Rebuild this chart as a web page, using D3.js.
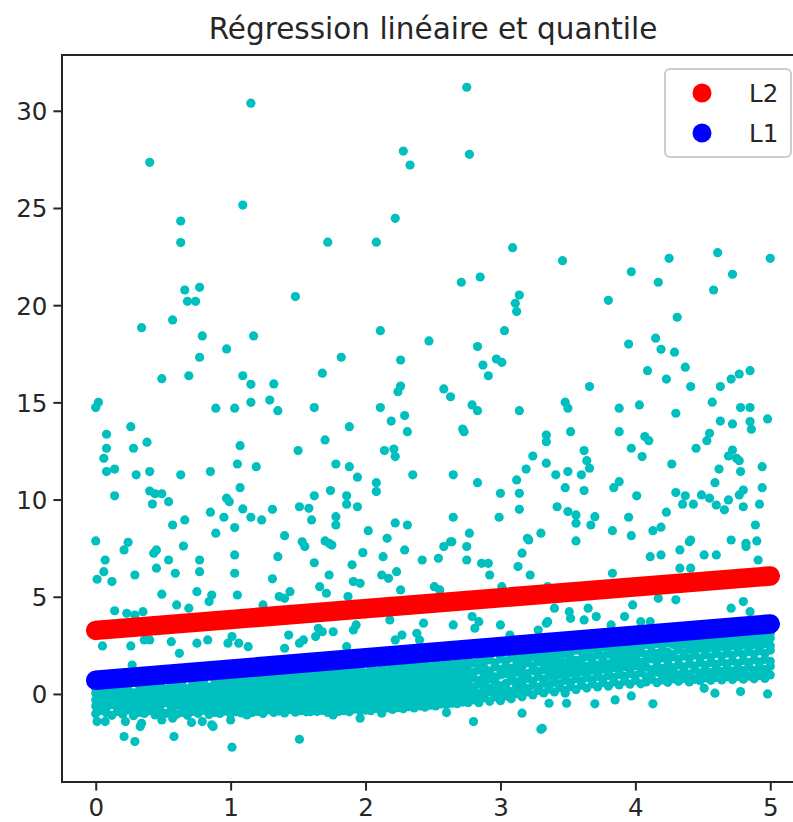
<!DOCTYPE html>
<html><head><meta charset="utf-8">
<script src="https://cdn.jsdelivr.net/npm/d3@7"></script>
<style>body{margin:0;background:#fff}svg{display:block;font-family:"DejaVu Sans",sans-serif}</style>
</head><body><svg id="c" width="793" height="822"></svg>
<script>
const chartTitle = "Régression linéaire et quantile";
const xTicks = [0, 1, 2, 3, 4, 5];
const yTicks = [0, 5, 10, 15, 20, 25, 30];
const xDomain = [-0.25, 5.25];
const yDomain = [-4.53, 32.87];
const seriesNames = ["L2", "L1"];
const lineL2 = [[0, 3.27], [5, 6.07]];
const lineL1 = [[0, 0.70], [5, 3.60]];

const pointsUpper = [
[1.15,30.39],[0.40,27.35],[1.09,25.15],[0.63,24.33],[0.63,23.22],[0.66,20.78],[0.77,20.92],[1.48,20.44],[0.68,20.2],[0.74,20.2],
[0.34,18.84],[0.57,19.24],[0.79,18.42],[1.17,18.42],[0.97,17.75],[0.77,17.32],[0.49,16.22],[0.69,16.37],[1.09,16.37],[1.15,15.93],
[1.32,15.95],[0.02,15.0],[0.0,14.73],[0.89,14.70],[1.03,14.70],[1.15,15.0],[1.29,15.12],[1.35,14.57],[0.26,13.75],[0.08,13.36],
[0.08,12.64],[0.28,12.64],[0.38,12.95],[0.06,12.12],[0.08,11.44],[0.14,11.57],[0.30,11.27],[0.40,11.44],[0.63,11.27],[0.85,11.44],
[1.07,12.77],[1.05,11.83],[1.19,11.69],[1.50,12.52],[1.07,10.61],[0.40,10.44],[0.44,10.30],[0.49,10.30],[0.14,10.19],[0.42,9.77],
[0.54,9.89],[0.97,10.07],[0.99,9.89],[0.85,9.35],[0.95,9.09],[1.09,9.52],[1.15,9.09],[1.23,8.95],[1.31,9.50],[1.51,9.63],
[0.57,8.69],[0.66,8.95],[1.03,8.56],[0.89,8.27],[1.40,8.14],[0.0,7.87],[0.24,7.80],[1.53,7.83],
[2.75,31.21],[2.28,27.93],[2.33,27.21],[2.77,27.76],[2.22,24.47],[1.72,23.24],[2.08,23.24],[3.09,22.96],[2.71,21.18],[2.85,21.45],
[3.14,20.52],[3.11,20.10],[3.12,19.67],
[2.11,18.69],[2.47,18.16],[1.82,17.32],[2.26,17.18],[1.68,16.50],[3.03,18.69],[2.83,17.87],[2.97,17.23],[3.01,17.06],[2.87,16.92],
[2.91,16.37],[2.26,15.84],[2.24,15.55],[2.58,15.69],[2.63,15.29],[1.62,14.73],[2.11,14.73],[2.79,14.87],[2.83,14.57],[3.14,14.57],
[1.88,13.75],[2.19,14.04],[2.29,14.32],[2.31,13.49],[1.70,13.07],[2.72,13.63],[2.73,13.49],[2.14,12.52],[2.21,12.60],[2.22,12.21],
[3.34,13.32],[3.34,12.98],[3.24,12.24],[3.34,11.87],[3.19,11.57],[3.12,11.01],[1.78,11.83],[1.88,11.69],[1.94,11.15],[2.35,11.27],
[2.65,11.27],[2.83,10.87],[2.08,10.87],[2.08,10.41],[1.74,10.46],[1.62,10.19],[1.86,10.19],[1.86,9.76],[1.94,9.63],[1.58,9.55],
[1.60,8.95],[1.78,9.12],[1.78,8.69],[3.00,10.32],[3.14,10.32],[3.14,9.50],[2.99,9.09],[2.65,9.09],[2.22,8.80],[2.31,8.69],
[2.02,8.40],[2.77,8.27],[3.30,8.27],[3.20,8.01],[2.16,8.01],[1.70,7.87],[2.63,7.83],
[3.46,22.29],[4.25,22.41],[4.61,22.70],[5.0,22.41],[3.97,21.72],[4.17,21.18],[4.72,21.59],[4.58,20.78],[3.80,20.25],
[4.31,19.38],[3.95,18.00],[4.15,18.30],[4.19,17.73],[4.29,17.58],[4.37,16.81],[4.09,16.63],[4.23,16.20],[4.41,15.81],[4.63,15.81],
[4.71,16.20],[4.77,16.46],[4.85,16.63],[3.66,15.81],[3.48,15.01],[3.50,14.70],[3.88,14.70],[4.03,14.87],[4.57,15.01],[4.30,14.44],
[4.78,14.73],[4.85,14.73],[4.98,14.15],[4.63,14.04],[4.72,13.89],[4.85,14.01],[4.86,13.62],[3.52,13.49],[3.88,13.49],[4.07,13.24],
[4.10,13.03],[4.55,13.41],[4.53,13.03],[3.97,12.64],[4.45,12.64],[4.72,12.55],[4.69,12.24],[4.75,12.12],[4.77,12.0],[3.62,12.52],
[4.05,12.21],[3.64,12.0],[3.66,11.61],[4.27,11.83],[4.94,11.69],[4.62,11.57],[4.78,11.44],[3.41,11.27],[3.50,11.44],[3.60,11.27],
[4.59,10.87],[3.88,10.92],[3.84,10.61],[3.48,10.61],[3.62,10.46],[4.94,10.61],[4.80,10.49],[4.77,10.24],[4.30,10.36],[4.37,10.19],
[4.35,9.76],[4.43,9.76],[4.49,10.24],[4.55,10.07],[4.60,9.72],[4.66,9.47],[4.69,9.98],[4.01,10.19],[4.80,9.63],[4.92,9.76],
[3.42,9.63],[3.50,9.38],[3.56,9.21],[3.56,8.78],[3.70,9.12],[3.67,8.69],[3.95,9.09],[4.23,9.35],[4.89,8.69],[3.83,8.40],
[3.97,8.14],[4.13,8.40],[4.19,8.58],[4.41,7.92],[4.71,7.92],[4.90,7.87],[4.82,7.75],[3.56,7.87]
];

const pointsMiddle = [
[0.21,7.41],[0.07,6.89],[0.06,6.29],[0.01,5.90],[0.12,5.78],[0.29,6.12],[0.43,7.24],[0.45,7.41],[0.45,6.47],[0.54,6.89],
[0.65,7.61],[0.59,6.21],[0.77,6.89],[0.77,6.29],[1.03,7.15],[1.03,6.21],[1.05,5.09],[1.35,7.06],[1.31,5.92],[1.44,5.26],
[1.36,5.01],[1.40,4.92],[0.49,5.13],[0.75,5.26],[0.86,5.09],[0.84,4.75],[0.60,4.58],[0.69,4.41],[0.14,4.28],[0.23,4.15],
[0.35,4.23],[0.29,4.06],[1.24,4.58],
[0.05,2.47],[0.26,2.47],[0.36,2.78],[0.40,2.78],[0.56,2.69],[0.62,2.09],[0.75,2.61],[0.83,2.78],[0.98,2.61],[1.01,2.95],
[1.06,2.61],[1.13,2.43],[1.43,3.03],[1.40,2.35],[0.27,1.49],[1.51,2.61],[3.07,3.03],
[0.21,-2.19],[0.29,-2.45],[0.58,-2.19],[1.01,-2.74],[1.51,-2.33],[0.01,-1.42],[0.07,-1.42],[0.22,-1.42],[0.34,-1.51],[0.49,-1.34],
[0.57,-1.25],[0.71,-1.47],[0.79,-1.42],[0.86,-1.59],[1.00,-1.34],[1.13,-0.99],[0.33,-1.68],[0.87,-1.68],[1.12,-1.08],[1.58,-0.82],
[1.55,7.58],[1.62,6.75],[1.73,7.75],[1.75,7.66],[1.66,5.52],[1.73,6.12],[1.71,5.18],[1.90,6.64],[1.91,5.78],[1.96,5.69],
[1.98,7.27],[1.87,5.01],[2.13,7.06],[2.12,6.12],[2.17,5.95],[2.23,6.29],[2.29,7.41],[2.26,5.35],[2.42,6.89],[2.51,5.52],
[2.55,5.35],[2.58,7.58],[2.64,7.83],[2.54,6.98],[2.75,7.58],[2.75,6.89],[2.86,6.72],[2.91,6.72],[2.92,6.12],[3.01,5.52],
[3.13,6.55],[3.16,7.24],[3.22,6.12],[3.21,7.92],
[1.54,2.78],[1.63,2.95],[1.65,3.38],[1.68,3.20],[1.76,3.20],[1.91,3.29],[1.93,3.55],[1.86,2.43],[2.22,2.78],[2.27,3.03],
[2.38,3.12],[2.40,2.78],[2.43,3.64],[2.65,3.55],[2.79,3.98],[2.84,3.72],[2.81,3.38],[3.00,3.55],[3.28,3.29],[3.34,3.64],[2.18,3.81],
[1.76,-1.08],[1.96,-1.25],[2.12,-0.99],[2.60,-0.96],[2.80,-1.42],[3.16,-0.99],[3.30,-1.82],[2.26,-0.14],[1.59,-0.91],
[4.11,7.06],[4.19,7.15],[4.33,7.41],[4.40,7.83],[4.51,7.15],[4.60,7.15],[4.82,7.58],[4.91,6.89],[4.33,6.47],[4.41,6.47],
[3.83,6.21],[3.35,5.52],[3.40,5.35],
[3.40,4.41],[3.35,3.72],[3.51,4.23],[3.52,3.89],[3.62,3.81],[3.65,4.41],[3.71,3.98],[3.92,3.98],[3.98,4.58],[4.17,4.92],
[4.30,4.84],[3.82,3.55],[4.04,3.72],[4.11,3.72],[4.71,4.41],[4.80,4.75],[4.85,4.23],
[3.36,-0.48],[3.48,0.04],[3.49,-0.48],[3.70,-0.51],[3.85,-0.31],[3.97,-0.10],[4.13,-0.51],[4.51,0.29],[4.59,0.04],[4.78,0.12],
[4.98,0.0],[3.31,-1.77]
];

// dense band below L1: [x, y1, y2, ...]
const bandColumns = [
[0.00,-1.02,-0.62,-0.31,0.05,0.31],[0.04,-0.85,-0.48,-0.12,0.22],[0.08,-0.98,-0.70,-0.35,0.02,0.35],[0.12,-1.10,-0.55,-0.20,0.18],
[0.16,-0.90,-0.62,-0.28,0.10,0.40],[0.20,-1.05,-0.75,-0.40,-0.05,0.28],[0.24,-0.82,-0.50,-0.15,0.20,0.45],[0.28,-1.12,-0.68,-0.32,0.05],
[0.32,-0.95,-0.58,-0.22,0.15,0.48],[0.36,-1.00,-0.72,-0.40,-0.08,0.30],[0.40,-0.86,-0.52,-0.18,0.12,0.50],[0.44,-1.08,-0.66,-0.30,0.02,0.35],
[0.48,-0.92,-0.60,-0.25,0.18,0.55],[0.52,-1.00,-0.45,-0.10,0.25],[0.56,-0.88,-0.70,-0.36,0.05,0.42,0.60],[0.60,-1.04,-0.58,-0.20,0.15,0.50],
[0.64,-0.95,-0.62,-0.30,0.08,0.38,0.65],[0.68,-1.10,-0.78,-0.42,-0.05,0.28],[0.72,-0.90,-0.55,-0.18,0.20,0.55,0.70],[0.76,-1.00,-0.68,-0.35,0.02,0.40],
[0.80,-0.84,-0.50,-0.12,0.25,0.62,0.78],[0.84,-1.06,-0.72,-0.38,0.00,0.35],[0.88,-0.95,-0.60,-0.25,0.12,0.48,0.80],[0.92,-1.00,-0.66,-0.30,0.05,0.42,0.72],
[0.96,-0.88,-0.52,-0.15,0.22,0.58,0.85],[1.00,-1.02,-0.70,-0.36,0.02,0.38,0.75],[1.04,-0.92,-0.58,-0.20,0.15,0.52,0.88],[1.08,-0.98,-0.64,-0.28,0.10,0.45,0.80],
[1.12,-0.85,-0.48,-0.12,0.25,0.62,0.95],[1.16,-0.96,-0.60,-0.25,0.12,0.50,0.85],[1.20,-0.90,-0.55,-0.18,0.20,0.58,0.98],[1.24,-1.00,-0.68,-0.32,0.05,0.42,0.78],
[1.28,-0.82,-0.45,-0.08,0.30,0.68,1.00],[1.32,-0.95,-0.62,-0.26,0.12,0.50,0.90],[1.36,-0.88,-0.50,-0.15,0.22,0.60,1.05],[1.40,-0.98,-0.66,-0.30,0.08,0.45,0.85],
[1.44,-0.80,-0.42,-0.05,0.32,0.70,1.08],[1.48,-0.94,-0.58,-0.22,0.15,0.55,0.95],[1.52,-0.86,-0.50,-0.12,0.25,0.65,1.10],[1.56,-0.92,-0.60,-0.25,0.12,0.50,0.90,1.15],
[1.60,-0.80,-0.45,-0.08,0.30,0.70,1.05],[1.64,-0.90,-0.55,-0.18,0.20,0.58,0.98,1.20],[1.68,-0.85,-0.48,-0.10,0.28,0.66,1.05],[1.72,-0.95,-0.62,-0.26,0.12,0.50,0.88,1.25],
[1.76,-0.82,-0.46,-0.06,0.32,0.72,1.10],[1.80,-0.90,-0.55,-0.18,0.22,0.60,0.98,1.30],[1.84,-0.86,-0.50,-0.12,0.26,0.65,1.05],[1.88,-0.92,-0.58,-0.22,0.15,0.55,0.95,1.32],
[1.92,-0.78,-0.42,-0.04,0.35,0.75,1.12],[1.96,-0.88,-0.52,-0.15,0.22,0.62,1.00,1.38],[2.00,-0.84,-0.48,-0.10,0.30,0.70,1.08],[2.04,-0.86,-0.55,-0.20,0.18,0.58,0.96,1.40],
[2.08,-0.75,-0.40,-0.02,0.38,0.78,1.15],[2.12,-0.82,-0.50,-0.14,0.25,0.64,1.02,1.45],[2.16,-0.72,-0.36,0.02,0.42,0.82,1.20],[2.20,-0.80,-0.46,-0.10,0.28,0.68,1.08,1.48],
[2.24,-0.70,-0.34,0.05,0.45,0.85,1.25],[2.28,-0.76,-0.42,-0.06,0.32,0.72,1.12,1.52],[2.32,-0.66,-0.30,0.10,0.50,0.90,1.30],[2.36,-0.72,-0.38,0.00,0.38,0.78,1.18,1.58],
[2.40,-0.62,-0.26,0.14,0.55,0.95,1.35],[2.44,-0.68,-0.32,0.05,0.45,0.85,1.25,1.62],[2.48,-0.58,-0.22,0.18,0.58,0.98,1.40],[2.52,-0.62,-0.28,0.10,0.50,0.90,1.30,1.68],
[2.56,-0.52,-0.15,0.25,0.65,1.05,1.45],[2.60,-0.56,-0.20,0.18,0.58,0.96,1.36,1.72],[2.64,-0.48,-0.10,0.30,0.70,1.10,1.50],[2.68,-0.50,-0.14,0.24,0.62,1.02,1.42,1.78],
[2.72,-0.42,-0.05,0.35,0.75,1.15,1.55],[2.76,-0.45,-0.08,0.30,0.70,1.08,1.48,1.85],
[2.80,-0.30,0.08,0.35,0.82,1.10,1.58],[2.84,-0.45,0.02,0.50,0.70,1.22,1.48,1.92],[2.88,-0.20,0.25,0.55,0.95,1.35,1.70],[2.92,-0.38,0.10,0.30,0.78,1.18,1.75,1.98],
[2.96,-0.15,0.20,0.65,0.88,1.40,1.60],[3.00,-0.35,0.05,0.42,0.98,1.25,1.80,2.02],[3.04,-0.10,0.30,0.55,1.05,1.45,1.70],[3.08,-0.25,0.12,0.68,0.90,1.30,1.85,2.08],
[3.12,0.02,0.40,0.62,1.12,1.50,1.78],[3.16,-0.15,0.20,0.55,0.98,1.40,1.72,2.12],[3.20,0.10,0.28,0.80,1.05,1.60,1.95],[3.24,-0.05,0.45,0.68,1.20,1.42,1.90,2.18],
[3.28,0.18,0.35,0.90,1.15,1.65,2.05],[3.32,0.05,0.55,0.75,1.25,1.52,1.98,2.25],[3.36,0.25,0.48,0.95,1.35,1.70,2.10],[3.40,0.10,0.60,0.82,1.18,1.62,1.92,2.30],
[3.44,0.32,0.52,1.00,1.40,1.78,2.20],[3.48,0.18,0.70,0.90,1.28,1.58,2.05,2.35],[3.52,0.38,0.60,1.08,1.48,1.85,2.15],[3.56,0.22,0.78,0.95,1.35,1.72,2.25,2.40],
[3.60,0.45,0.66,1.15,1.55,1.80,2.20],[3.64,0.30,0.85,1.02,1.42,1.92,2.12,2.45],[3.68,0.52,0.72,1.22,1.60,1.88,2.35],[3.72,0.36,0.90,1.10,1.48,2.00,2.22,2.50],
[3.76,0.58,0.78,1.28,1.68,1.95,2.42],[3.80,0.40,0.95,1.15,1.55,2.05,2.30,2.56],[3.84,0.62,0.85,1.35,1.72,2.10,2.48],[3.88,0.46,1.00,1.22,1.62,2.00,2.38,2.62],
[3.92,0.66,0.90,1.40,1.80,2.15,2.52],[3.96,0.50,1.05,1.28,1.68,2.08,2.45,2.66],
[4.00,0.70,0.95,1.45,1.85,2.22,2.58],[4.04,0.52,1.10,1.30,1.62,2.12,2.40,2.72],[4.08,0.62,0.88,1.38,1.75,2.02,2.55],[4.12,0.75,1.02,1.25,1.80,2.18,2.48,2.76],
[4.16,0.58,1.12,1.42,1.68,2.08,2.60],[4.20,0.72,0.95,1.30,1.85,2.25,2.50,2.80],[4.24,0.60,1.05,1.48,1.72,2.15,2.62],[4.28,0.78,1.15,1.35,1.90,2.05,2.55,2.85],
[4.32,0.65,0.98,1.50,1.78,2.28,2.66],[4.36,0.80,1.20,1.40,1.95,2.12,2.58,2.88],[4.40,0.62,1.02,1.55,1.82,2.30,2.70],[4.44,0.75,1.22,1.45,2.00,2.20,2.62,2.92],
[4.48,0.68,1.08,1.60,1.85,2.35,2.74],[4.52,0.82,1.25,1.48,2.02,2.25,2.68,2.96],[4.56,0.70,1.10,1.62,1.90,2.40,2.78],[4.60,0.85,1.30,1.52,2.08,2.28,2.70,3.00],
[4.64,0.72,1.15,1.66,1.95,2.45,2.82],[4.68,0.88,1.32,1.55,2.10,2.32,2.75,3.02],[4.72,0.74,1.18,1.70,1.98,2.48,2.85],[4.76,0.90,1.35,1.58,2.15,2.36,2.80,3.06],
[4.80,0.76,1.20,1.72,2.02,2.52,2.88],[4.84,0.92,1.38,1.62,2.18,2.40,2.82,3.08],[4.88,0.78,1.22,1.75,2.05,2.55,2.90],[4.92,0.95,1.40,1.65,2.22,2.44,2.86,3.10],
[4.96,0.80,1.25,1.78,2.08,2.58,2.92],[5.00,0.98,1.42,1.68,2.25,2.48,2.88,3.12]
];

const bandPoints = bandColumns.flatMap(c => c.slice(1).map(y => [c[0], y]));
const allPoints = pointsUpper.concat(pointsMiddle, bandPoints);

const svg = d3.select("#c");
const L = 62, R = 804, T = 55, B = 782;
const x = d3.scaleLinear().domain(xDomain).range([L, R]);
const y = d3.scaleLinear().domain(yDomain).range([B, T]);
const ink = "#262626";
const tickFont = 24.5;

svg.append("text").attr("x", (L + R) / 2).attr("y", 39).attr("text-anchor", "middle")
  .attr("font-size", 29.5).attr("fill", ink).text(chartTitle);

svg.append("clipPath").attr("id", "clipA").append("rect")
  .attr("x", L).attr("y", T).attr("width", R - L).attr("height", B - T);

const plot = svg.append("g").attr("clip-path", "url(#clipA)");
plot.append("g").selectAll("circle").data(allPoints).join("circle")
  .attr("cx", d => x(d[0])).attr("cy", d => y(d[1])).attr("r", 4.6).attr("fill", "#00bfbf");

const lineGen = d3.line().x(d => x(d[0])).y(d => y(d[1]));
plot.append("path").datum(lineL2).attr("d", lineGen).attr("stroke", "#ff0000")
  .attr("stroke-width", 19.5).attr("stroke-linecap", "round").attr("fill", "none");
plot.append("path").datum(lineL1).attr("d", lineGen).attr("stroke", "#0000ff")
  .attr("stroke-width", 19.5).attr("stroke-linecap", "round").attr("fill", "none");

// axes
const xAxis = svg.append("g").attr("transform", `translate(0,${B})`)
  .call(d3.axisBottom(x).tickValues(xTicks).tickSize(8.6).tickPadding(7).tickFormat(d3.format("d")));
const yAxis = svg.append("g").attr("transform", `translate(${L},0)`)
  .call(d3.axisLeft(y).tickValues(yTicks).tickSize(8.6).tickPadding(6).tickFormat(d3.format("d")));
[xAxis, yAxis].forEach(g => {
  g.select(".domain").remove();
  g.selectAll("line").attr("stroke", ink).attr("stroke-width", 2);
  g.selectAll("text").attr("font-family", "DejaVu Sans").attr("font-size", tickFont).attr("fill", ink);
});
xAxis.selectAll("text").attr("dy", null).attr("y", 33.5);
yAxis.selectAll("text").attr("dy", "0.36em");

// spines
svg.append("rect").attr("x", L).attr("y", T).attr("width", R - L).attr("height", B - T)
  .attr("fill", "none").attr("stroke", ink).attr("stroke-width", 2);

// legend
const leg = svg.append("g");
leg.append("rect").attr("x", 665).attr("y", 69).attr("width", 126).attr("height", 88)
  .attr("rx", 5).attr("fill", "#fff").attr("fill-opacity", 0.8).attr("stroke", "#cccccc").attr("stroke-width", 2);
const legColors = ["#ff0000", "#0000ff"];
seriesNames.forEach((name, i) => {
  const cy = 93 + i * 40;
  leg.append("circle").attr("cx", 702).attr("cy", cy).attr("r", 9.5).attr("fill", legColors[i]);
  leg.append("text").attr("x", 749).attr("y", cy).attr("dy", "0.36em")
    .attr("font-size", tickFont).attr("fill", ink).text(name);
});
</script></body></html>
